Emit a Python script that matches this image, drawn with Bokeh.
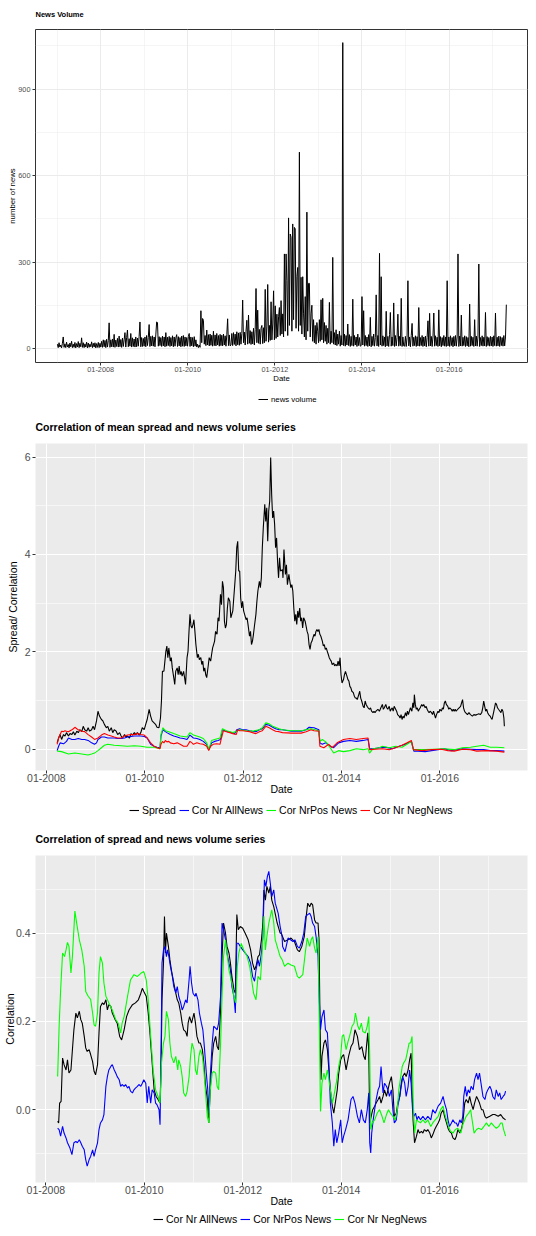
import numpy as np
import pandas as pd
from bokeh.plotting import figure
from bokeh.models import Range1d, FixedTicker, Legend, LegendItem, PrintfTickFormatter
from bokeh.layouts import column
from bokeh.embed import file_html
from bokeh.resources import INLINE

FONT = "Liberation Sans"

# ---------------- data ----------------
year_ticks = [2008, 2010, 2012, 2014, 2016]
year_minor = [2007, 2009, 2011, 2013, 2015, 2017]
year_labels = {y: "01-%d" % y for y in year_ticks}

# Panel 1: news volume, weekly samples starting 2007-01-03 (52 per year)
nv2007 = [15,3,20,5,12,2,18,40,4,16, 3,22,5,14,2,19,6,25,3,15, 4,21,2,17,5,24,3,18,6,37, 4,20,3,16,5,22,2,19,4,15, 6,23,3,18,5,20,2,17,4,21, 3,18]
nv2008 = [5,25,4,30,6,28,3,32,5,27, 89,4,30,6,33,5,49,4,29,7, 35,5,43,6,31,4,36,7,30,55, 5,38,64,6,34,8,52,5,37,7, 33,5,40,6,36,8,42,92,6,38, 7,35]
nv2009 = [8,40,6,45,10,38,83,7,42,9, 44,8,40,6,47,92,90,8,41,10, 38,7,43,9,40,6,55,8,39,10, 42,7,38,9,44,6,40,8,37,48, 7,41,9,38,6,43,8,45,7,40, 9,38]
nv2010 = [8,42,52,7,40,9,38,6,41,8, 30,5,15,3,12,4,131,20,104,98, 15,45,10,64,12,48,9,50,11,46, 8,60,10,47,9,52,12,45,8,49, 10,46,9,50,12,44,8,48,103,10, 47,9]
nv2011 = [12,52,10,55,14,50,9,58,13,54, 11,56,15,52,168,20,57,12,60,98, 15,116,18,62,14,58,16,70,12,65, 208,20,133,18,66,15,70,80,17,72, 20,205,25,75,222,22,80,28,162,30, 85,200]
nv2012 = [30,148,35,119,40,110,142,45,166,50, 120,40,328,60,328,235,45,453,80,397, 386,60,432,100,420,415,70,250,281,60, 681,80,247,50,249,120,40,180,30,473, 60,226,226,40,120,150,25,100,20,80, 15,90]
nv2013 = [60,20,100,25,169,30,174,20,90,25, 80,15,70,20,160,15,60,20,316,15, 55,12,65,10,50,15,60,8,45,12, 1061,10,50,8,45,12,85,10,48,7, 42,10,171,8,45,12,40,7,50,10, 38,8]
nv2014 = [10,180,12,131,8,45,10,40,7,48, 9,108,6,42,10,50,8,38,186,9, 45,7,330,12,249,8,44,10,40,6, 129,9,42,7,48,125,8,40,10,158, 7,45,9,38,119,8,42,10,174,7, 40,9]
nv2015 = [8,42,7,38,235,9,40,6,45,87, 8,39,10,44,7,41,9,142,8,38, 10,45,7,40,9,43,6,38,96,8, 122,9,42,7,40,123,8,44,10,39, 7,134,9,41,6,38,10,45,8,40, 7,235]
nv2016 = [9,40,7,44,10,38,6,42,9,45, 8,40,328,7,43,9,116,8,39,10, 44,7,41,9,38,6,154,8,42,10, 39,7,100,9,43,8,40,293,7,38, 10,44,8,39,9,125,7,41,10,38, 8,42]
nv2017 = [9,40,7,44,10,123,8,39,9,43, 7,41,10,38,8,45,9,40,152]

# Panel 2: mean spread and correlations (decimal year, value)
spread = [(2008.22,0.13),(2008.25,0.23),(2008.28,0.30),(2008.31,0.20),(2008.35,0.30),(2008.38,0.27),(2008.41,0.34),(2008.45,0.27),(2008.48,0.32),(2008.52,0.30),(2008.55,0.36),(2008.58,0.29),(2008.62,0.37),(2008.65,0.34),(2008.68,0.40),(2008.72,0.36),(2008.75,0.47),(2008.78,0.40),(2008.82,0.37),(2008.85,0.44),(2008.88,0.37),(2008.92,0.40),(2008.95,0.47),(2008.98,0.40),(2009.02,0.58),(2009.05,0.78),(2009.08,0.68),(2009.12,0.61),(2009.15,0.58),(2009.18,0.51),(2009.22,0.44),(2009.25,0.47),(2009.28,0.37),(2009.32,0.44),(2009.35,0.34),(2009.38,0.40),(2009.42,0.37),(2009.45,0.30),(2009.49,0.34),(2009.52,0.27),(2009.55,0.23),(2009.59,0.30),(2009.62,0.25),(2009.65,0.27),(2009.69,0.23),(2009.72,0.32),(2009.75,0.29),(2009.79,0.34),(2009.82,0.30),(2009.85,0.34),(2009.89,0.29),(2009.92,0.34),(2009.95,0.44),(2009.99,0.40),(2010.02,0.51),(2010.05,0.61),(2010.09,0.82),(2010.12,0.68),(2010.15,0.58),(2010.19,0.54),(2010.22,0.51),(2010.25,0.45),(2010.29,0.44),(2010.32,0.64),(2010.34,0.99),(2010.36,1.60),(2010.39,1.60),(2010.41,1.81),(2010.43,2.01),(2010.45,2.12),(2010.47,1.88),(2010.49,2.08),(2010.52,1.81),(2010.54,1.88),(2010.56,1.67),(2010.59,1.47),(2010.61,1.33),(2010.63,1.60),(2010.66,1.67),(2010.68,1.53),(2010.70,1.71),(2010.72,1.53),(2010.74,1.60),(2010.76,1.50),(2010.79,1.60),(2010.81,1.47),(2010.83,1.33),(2010.86,1.88),(2010.88,2.01),(2010.90,2.42),(2010.92,2.77),(2010.94,2.53),(2010.96,2.49),(2010.98,2.56),(2011.00,2.66),(2011.02,2.42),(2011.04,2.15),(2011.07,1.88),(2011.09,1.95),(2011.11,1.84),(2011.14,1.88),(2011.16,1.74),(2011.18,1.81),(2011.20,1.60),(2011.22,1.67),(2011.24,1.53),(2011.26,1.47),(2011.29,1.71),(2011.31,1.88),(2011.34,1.81),(2011.36,1.95),(2011.38,2.08),(2011.40,2.15),(2011.42,2.22),(2011.44,2.42),(2011.47,2.36),(2011.49,2.70),(2011.51,2.63),(2011.54,3.18),(2011.56,2.97),(2011.58,3.45),(2011.60,3.32),(2011.62,2.63),(2011.64,2.49),(2011.66,2.56),(2011.68,2.90),(2011.70,3.11),(2011.73,3.04),(2011.75,2.70),(2011.77,2.77),(2011.79,2.84),(2011.81,3.11),(2011.83,3.38),(2011.85,3.66),(2011.87,4.14),(2011.89,4.27),(2011.91,3.66),(2011.93,3.66),(2011.95,3.11),(2011.97,2.90),(2011.99,3.04),(2012.01,2.84),(2012.03,2.77),(2012.06,2.66),(2012.08,2.70),(2012.10,2.56),(2012.13,2.32),(2012.15,2.42),(2012.17,2.15),(2012.19,2.22),(2012.21,2.36),(2012.23,2.53),(2012.26,2.77),(2012.28,3.04),(2012.30,3.25),(2012.33,3.45),(2012.35,3.32),(2012.37,3.52),(2012.39,4.14),(2012.41,4.55),(2012.44,5.03),(2012.46,4.68),(2012.48,4.96),(2012.50,4.27),(2012.52,4.89),(2012.54,5.10),(2012.56,5.99),(2012.58,5.23),(2012.60,4.75),(2012.62,4.89),(2012.64,4.62),(2012.66,4.14),(2012.68,4.34),(2012.70,3.86),(2012.72,3.52),(2012.74,3.93),(2012.76,3.66),(2012.80,3.69),
(2012.81,3.52),(2012.83,4.10),(2012.86,3.59),(2012.88,3.79),(2012.90,3.38),(2012.93,3.59),(2012.95,3.45),(2012.97,3.32),(2012.99,3.38),(2013.01,3.25),(2013.03,2.90),(2013.05,2.63),(2013.07,2.77),(2013.09,2.56),(2013.11,2.84),(2013.13,2.70),(2013.15,2.90),(2013.17,2.63),(2013.19,2.70),(2013.21,2.49),(2013.23,2.70),(2013.26,2.63),(2013.28,2.53),(2013.30,2.42),(2013.32,2.36),(2013.34,2.15),(2013.36,2.05),(2013.38,2.18),(2013.40,2.22),(2013.42,2.29),(2013.44,2.36),(2013.46,2.32),(2013.48,2.42),(2013.50,2.46),(2013.52,2.42),(2013.54,2.46),(2013.56,2.36),(2013.58,2.32),(2013.61,2.22),(2013.63,2.12),(2013.65,2.15),(2013.67,2.05),(2013.69,2.08),(2013.71,2.01),(2013.73,1.95),(2013.75,1.88),(2013.77,1.84),(2013.79,1.81),(2013.81,1.74),(2013.84,1.77),(2013.86,1.71),(2013.88,1.74),(2013.91,1.71),(2013.93,1.81),(2013.95,1.71),(2013.97,1.88),(2013.99,1.53),(2014.01,1.36),(2014.04,1.43),(2014.06,1.53),(2014.08,1.60),(2014.11,1.50),(2014.13,1.43),(2014.15,1.40),(2014.17,1.29),(2014.19,1.26),(2014.21,1.19),(2014.24,1.16),(2014.26,1.09),(2014.28,1.05),(2014.30,1.05),(2014.32,1.02),(2014.35,1.12),(2014.37,1.19),(2014.39,1.05),(2014.41,0.99),(2014.44,0.88),(2014.46,0.85),(2014.48,0.99),(2014.50,0.92),(2014.52,0.88),(2014.54,0.85),(2014.57,0.82),(2014.59,0.85),(2014.61,0.78),(2014.64,0.75),(2014.66,0.78),(2014.68,0.75),(2014.70,0.78),(2014.74,0.82),(2014.77,0.78),(2014.80,0.85),(2014.83,0.92),(2014.85,0.82),(2014.87,0.85),(2014.90,0.92),(2014.92,0.85),(2014.94,0.82),(2014.97,0.88),(2014.99,0.78),(2015.01,0.82),(2015.03,0.85),(2015.05,0.78),(2015.07,0.88),(2015.10,0.82),(2015.12,0.78),(2015.14,0.71),(2015.17,0.68),(2015.19,0.64),(2015.21,0.71),(2015.23,0.61),(2015.25,0.68),(2015.27,0.64),(2015.30,0.75),(2015.32,0.68),(2015.34,0.78),(2015.36,0.71),(2015.38,0.78),(2015.40,0.85),(2015.43,0.78),(2015.45,0.95),(2015.47,0.85),(2015.48,1.12),(2015.50,0.92),(2015.52,0.82),(2015.54,0.85),(2015.56,0.78),(2015.58,0.82),(2015.60,0.85),(2015.63,0.92),(2015.65,0.88),(2015.67,0.92),(2015.70,0.85),(2015.72,0.88),(2015.74,0.82),(2015.76,0.78),(2015.78,0.75),(2015.80,0.78),(2015.83,0.75),(2015.85,0.71),(2015.87,0.78),(2015.89,0.71),(2015.91,0.64),(2015.93,0.71),(2015.96,0.78),(2015.98,0.75),(2016.00,0.82),(2016.03,0.78),(2016.05,0.85),(2016.07,0.82),(2016.09,0.95),(2016.11,0.99),(2016.13,0.92),(2016.16,0.88),(2016.18,0.82),(2016.20,0.85),(2016.23,0.82),(2016.25,0.78),(2016.27,0.82),(2016.29,0.78),(2016.31,0.82),(2016.33,0.78),(2016.36,0.82),(2016.39,0.85),(2016.42,0.88),(2016.44,0.95),(2016.46,1.02),(2016.48,0.85),(2016.50,0.78),(2016.52,0.75),(2016.56,0.71),(2016.59,0.75),(2016.62,0.71),(2016.66,0.68),(2016.69,0.71),(2016.72,0.70),(2016.75,0.71),(2016.79,0.73),(2016.82,0.71),(2016.85,0.75),(2016.87,0.85),(2016.89,0.99),(2016.91,0.88),(2016.93,0.78),(2016.95,0.82),(2016.97,0.75),(2016.99,0.71),(2017.02,0.68),(2017.04,0.64),(2017.06,0.61),(2017.09,0.75),(2017.11,0.85),(2017.13,0.95),(2017.15,0.92),(2017.17,0.85),(2017.19,0.82),(2017.22,0.78),(2017.24,0.75),(2017.26,0.82),(2017.28,0.78),(2017.30,0.64),(2017.31,0.47)]

mean_all = [(2008.22,-0.03),(2008.25,0.06),(2008.28,0.13),(2008.35,0.11),(2008.41,0.16),(2008.45,0.23),(2008.52,0.20),(2008.58,0.20),(2008.65,0.22),(2008.72,0.20),(2008.78,0.20),(2008.85,0.18),(2008.92,0.13),(2008.98,0.10),(2009.02,0.13),(2009.05,0.20),(2009.12,0.25),(2009.18,0.25),(2009.25,0.23),(2009.32,0.23),(2009.38,0.23),(2009.45,0.22),(2009.52,0.22),(2009.59,0.23),(2009.65,0.25),(2009.72,0.26),(2009.79,0.27),(2009.85,0.27),(2009.92,0.27),(2009.99,0.26),(2010.05,0.23),(2010.12,0.10),(2010.19,0.06),(2010.25,0.04),(2010.31,0.03),(2010.33,0.27),(2010.37,0.40),(2010.42,0.36),(2010.45,0.34),(2010.52,0.30),(2010.59,0.27),(2010.66,0.25),(2010.72,0.23),(2010.79,0.22),(2010.86,0.20),(2010.92,0.29),(2010.99,0.23),(2011.06,0.22),(2011.12,0.20),(2011.19,0.16),(2011.26,0.10),(2011.30,-0.01),(2011.36,0.13),(2011.42,0.16),(2011.49,0.18),(2011.54,0.20),(2011.58,0.40),(2011.63,0.38),(2011.69,0.36),(2011.76,0.34),(2011.83,0.32),(2011.87,0.40),(2011.93,0.42),(2011.99,0.40),(2012.06,0.40),(2012.13,0.38),(2012.19,0.37),(2012.26,0.36),(2012.33,0.40),(2012.39,0.42),(2012.46,0.51),(2012.53,0.49),(2012.60,0.45),(2012.66,0.42),(2012.73,0.40),(2012.80,0.40),(2012.98,0.37),(2013.18,0.37),(2013.28,0.40),(2013.34,0.45),(2013.44,0.44),(2013.54,0.40),(2013.56,0.13),(2013.61,0.10),(2013.68,0.13),(2013.77,0.06),(2013.84,0.03),(2013.94,0.13),(2014.04,0.16),(2014.17,0.18),(2014.30,0.16),(2014.44,0.18),(2014.54,0.20),(2014.57,0.01),(2014.64,0.01),(2014.77,0.03),(2014.90,0.04),(2015.03,0.01),(2015.17,0.06),(2015.30,0.10),(2015.42,0.16),(2015.47,-0.04),(2015.56,-0.04),(2015.70,-0.05),(2015.83,-0.03),(2015.96,-0.01),(2016.09,0.01),(2016.23,-0.03),(2016.36,-0.01),(2016.46,0.01),(2016.62,0.0),(2016.75,-0.01),(2016.89,-0.01),(2017.02,-0.03),(2017.15,-0.03),(2017.31,-0.04)]

mean_pos = [(2008.22,-0.04),(2008.31,-0.05),(2008.45,-0.10),(2008.58,-0.08),(2008.72,-0.10),(2008.85,-0.12),(2008.92,-0.10),(2008.98,-0.08),(2009.05,-0.03),(2009.12,0.03),(2009.18,0.08),(2009.25,0.10),(2009.38,0.08),(2009.52,0.07),(2009.65,0.06),(2009.79,0.07),(2009.92,0.06),(2010.05,0.04),(2010.19,0.04),(2010.31,0.01),(2010.33,0.30),(2010.37,0.44),(2010.42,0.38),(2010.49,0.36),(2010.59,0.32),(2010.72,0.27),(2010.86,0.25),(2010.92,0.34),(2010.99,0.29),(2011.12,0.25),(2011.19,0.22),(2011.26,0.13),(2011.30,-0.01),(2011.36,0.18),(2011.42,0.20),(2011.53,0.23),(2011.58,0.42),(2011.66,0.38),(2011.79,0.34),(2011.87,0.37),(2011.93,0.40),(2012.06,0.38),(2012.19,0.37),(2012.33,0.40),(2012.39,0.44),(2012.46,0.54),(2012.53,0.52),(2012.60,0.47),(2012.73,0.42),(2012.80,0.40),(2012.98,0.38),(2013.18,0.38),(2013.28,0.40),(2013.38,0.42),(2013.54,0.38),(2013.56,0.16),(2013.61,0.20),(2013.68,0.15),(2013.77,0.03),(2013.84,-0.08),(2013.94,-0.03),(2014.04,-0.05),(2014.17,-0.03),(2014.30,0.01),(2014.44,-0.01),(2014.54,0.01),(2014.57,-0.08),(2014.64,0.01),(2014.77,0.03),(2014.83,0.06),(2014.97,0.03),(2015.10,0.06),(2015.23,0.04),(2015.33,0.10),(2015.42,0.16),(2015.46,-0.01),(2015.70,-0.01),(2015.89,0.0),(2016.09,0.01),(2016.29,-0.01),(2016.46,0.03),(2016.62,0.04),(2016.75,0.06),(2016.89,0.08),(2017.02,0.04),(2017.15,0.04),(2017.31,0.03)]

mean_neg = [(2008.22,0.10),(2008.25,0.23),(2008.28,0.30),(2008.31,0.37),(2008.35,0.36),(2008.38,0.38),(2008.41,0.37),(2008.45,0.36),(2008.52,0.40),(2008.55,0.42),(2008.58,0.45),(2008.62,0.42),(2008.65,0.40),(2008.72,0.37),(2008.78,0.36),(2008.85,0.30),(2008.92,0.25),(2008.98,0.20),(2009.05,0.23),(2009.12,0.29),(2009.18,0.32),(2009.25,0.29),(2009.32,0.27),(2009.38,0.25),(2009.45,0.23),(2009.52,0.23),(2009.59,0.27),(2009.65,0.29),(2009.72,0.30),(2009.79,0.30),(2009.85,0.32),(2009.92,0.30),(2009.99,0.29),(2010.05,0.23),(2010.12,0.13),(2010.19,0.06),(2010.25,0.03),(2010.31,0.01),(2010.33,0.10),(2010.36,0.16),(2010.39,0.13),(2010.42,0.18),(2010.45,0.15),(2010.49,0.16),(2010.52,0.13),(2010.59,0.11),(2010.66,0.13),(2010.72,0.10),(2010.79,0.06),(2010.86,0.06),(2010.92,0.16),(2010.96,0.13),(2010.99,0.10),(2011.06,0.13),(2011.12,0.11),(2011.19,0.10),(2011.26,0.06),(2011.30,-0.03),(2011.34,0.06),(2011.39,0.10),(2011.46,0.11),(2011.53,0.10),(2011.56,0.23),(2011.60,0.38),(2011.66,0.36),(2011.73,0.34),(2011.79,0.32),(2011.86,0.30),(2011.89,0.40),(2011.93,0.38),(2011.99,0.38),(2012.06,0.37),(2012.13,0.36),(2012.19,0.34),(2012.26,0.32),(2012.33,0.36),(2012.39,0.38),(2012.46,0.47),(2012.53,0.44),(2012.60,0.40),(2012.66,0.37),(2012.73,0.36),(2012.80,0.34),(2012.98,0.33),(2013.18,0.33),(2013.28,0.36),(2013.38,0.40),(2013.44,0.38),(2013.54,0.37),(2013.56,0.06),(2013.64,0.03),(2013.74,0.10),(2013.81,0.03),(2013.91,0.13),(2014.04,0.20),(2014.17,0.22),(2014.30,0.20),(2014.44,0.22),(2014.54,0.23),(2014.57,-0.01),(2014.70,0.0),(2014.83,0.01),(2014.97,-0.01),(2015.10,0.03),(2015.23,0.08),(2015.33,0.13),(2015.42,0.18),(2015.46,-0.01),(2015.63,-0.03),(2015.83,-0.01),(2016.03,0.0),(2016.16,-0.03),(2016.29,-0.04),(2016.46,0.0),(2016.62,-0.01),(2016.75,-0.04),(2016.95,-0.03),(2017.15,-0.04),(2017.31,-0.06)]

# Panel 3: correlations (decimal year, value)
cor_all = [(2008.24,-0.026),(2008.26,-0.030),(2008.28,0.015),(2008.31,0.019),(2008.34,0.117),(2008.37,0.102),(2008.41,0.090),(2008.44,0.113),(2008.47,0.083),(2008.51,0.090),(2008.54,0.136),(2008.57,0.181),(2008.61,0.219),(2008.64,0.208),(2008.68,0.223),(2008.71,0.204),(2008.74,0.196),(2008.78,0.166),(2008.81,0.140),(2008.84,0.132),(2008.88,0.136),(2008.91,0.125),(2008.95,0.109),(2008.98,0.087),(2009.01,0.079),(2009.05,0.102),(2009.08,0.174),(2009.11,0.234),(2009.15,0.242),(2009.18,0.238),(2009.22,0.249),(2009.25,0.226),(2009.28,0.238),(2009.32,0.234),(2009.35,0.219),(2009.41,0.204),(2009.45,0.196),(2009.50,0.166),(2009.54,0.158),(2009.59,0.181),(2009.64,0.211),(2009.69,0.226),(2009.76,0.238),(2009.82,0.242),(2009.88,0.249),(2009.93,0.264),(2009.96,0.275),(2009.99,0.268),(2010.04,0.257),(2010.08,0.219),(2010.11,0.181),(2010.15,0.121),(2010.20,0.045),(2010.24,0.030),(2010.28,0.023),(2010.32,0.015),(2010.34,0.090),(2010.36,0.249),(2010.39,0.332),(2010.41,0.438),(2010.43,0.355),(2010.45,0.400),(2010.49,0.370),(2010.52,0.340),(2010.55,0.317),(2010.60,0.287),(2010.64,0.264),(2010.67,0.249),(2010.70,0.242),(2010.74,0.219),(2010.77,0.196),(2010.80,0.181),(2010.84,0.177),(2010.87,0.166),(2010.89,0.196),(2010.92,0.211),(2010.96,0.196),(2011.01,0.219),(2011.04,0.196),(2011.07,0.166),(2011.11,0.151),(2011.14,0.151),(2011.18,0.136),(2011.21,0.106),(2011.24,0.060),(2011.28,0.023),(2011.31,-0.030),(2011.34,0.045),(2011.38,0.121),(2011.41,0.151),(2011.45,0.166),(2011.48,0.143),(2011.51,0.136),(2011.55,0.226),(2011.58,0.347),(2011.61,0.423),(2011.65,0.400),(2011.68,0.370),(2011.72,0.355),(2011.75,0.332),(2011.78,0.302),(2011.82,0.272),(2011.85,0.264),(2011.88,0.442),(2011.91,0.408),(2011.95,0.415),(2012.00,0.411),(2012.05,0.400),(2012.11,0.385),(2012.16,0.362),(2012.20,0.332),(2012.24,0.317),(2012.27,0.325),(2012.31,0.347),(2012.34,0.351),(2012.38,0.385),(2012.41,0.423),(2012.43,0.498),(2012.46,0.475),(2012.49,0.506),(2012.53,0.491),(2012.56,0.506),(2012.59,0.475),(2012.63,0.460),(2012.70,0.423),(2012.76,0.400),
(2012.78,0.400),(2012.85,0.381),(2012.92,0.385),(2012.98,0.389),(2013.05,0.381),(2013.11,0.362),(2013.15,0.358),(2013.20,0.370),(2013.25,0.392),(2013.29,0.438),(2013.32,0.468),(2013.36,0.460),(2013.39,0.468),(2013.42,0.464),(2013.46,0.430),(2013.49,0.423),(2013.53,0.423),(2013.55,0.385),(2013.57,0.196),(2013.59,0.068),(2013.61,0.121),(2013.65,0.151),(2013.68,0.158),(2013.72,0.136),(2013.75,0.090),(2013.78,0.045),(2013.82,0.008),(2013.85,-0.008),(2013.88,0.015),(2013.92,0.045),(2013.95,0.083),(2013.99,0.113),(2014.02,0.121),(2014.05,0.125),(2014.10,0.090),(2014.15,0.121),(2014.20,0.143),(2014.24,0.151),(2014.28,0.181),(2014.33,0.166),(2014.37,0.136),(2014.42,0.143),(2014.46,0.121),(2014.49,0.113),(2014.52,0.151),(2014.54,0.174),(2014.56,0.136),(2014.58,-0.030),(2014.61,-0.015),(2014.64,0.000),(2014.68,0.008),(2014.71,0.015),(2014.75,0.023),(2014.78,0.030),(2014.81,0.015),(2014.85,0.030),(2014.88,0.045),(2014.92,0.030),(2014.95,0.045),(2014.98,0.060),(2015.02,0.075),(2015.05,0.045),(2015.08,-0.015),(2015.12,-0.008),(2015.15,0.015),(2015.19,0.030),(2015.22,0.060),(2015.25,0.075),(2015.29,0.083),(2015.32,0.075),(2015.36,0.090),(2015.39,0.113),(2015.42,0.128),(2015.44,0.045),(2015.46,-0.023),(2015.49,-0.075),(2015.53,-0.060),(2015.56,-0.045),(2015.59,-0.053),(2015.63,-0.049),(2015.66,-0.053),(2015.69,-0.045),(2015.73,-0.049),(2015.76,-0.045),(2015.80,-0.053),(2015.83,-0.064),(2015.86,-0.057),(2015.90,-0.045),(2015.93,-0.038),(2015.97,-0.030),(2016.00,-0.023),(2016.03,-0.008),(2016.07,0.000),(2016.10,-0.015),(2016.14,-0.030),(2016.17,-0.042),(2016.20,-0.049),(2016.24,-0.053),(2016.27,-0.064),(2016.31,-0.068),(2016.34,-0.060),(2016.37,-0.045),(2016.41,-0.053),(2016.44,-0.045),(2016.47,-0.030),(2016.51,0.015),(2016.54,0.023),(2016.58,0.015),(2016.61,0.030),(2016.64,0.015),(2016.68,0.000),(2016.71,0.015),(2016.75,0.030),(2016.78,0.023),(2016.81,0.015),(2016.85,0.000),(2016.88,0.000),(2016.92,-0.015),(2016.95,-0.019),(2017.02,-0.015),(2017.08,-0.011),(2017.12,-0.011),(2017.19,-0.015),(2017.24,-0.011),(2017.29,-0.019),(2017.34,-0.023)]

cor_pos = [(2008.24,-0.042),(2008.27,-0.045),(2008.30,-0.060),(2008.34,-0.038),(2008.37,-0.053),(2008.41,-0.064),(2008.44,-0.075),(2008.49,-0.087),(2008.53,-0.102),(2008.57,-0.075),(2008.61,-0.072),(2008.64,-0.075),(2008.68,-0.068),(2008.71,-0.075),(2008.74,-0.083),(2008.78,-0.091),(2008.81,-0.113),(2008.84,-0.128),(2008.88,-0.113),(2008.91,-0.106),(2008.95,-0.091),(2008.98,-0.106),(2009.01,-0.091),(2009.05,-0.075),(2009.08,-0.045),(2009.11,-0.030),(2009.15,-0.023),(2009.18,-0.011),(2009.22,0.053),(2009.25,0.075),(2009.28,0.090),(2009.32,0.098),(2009.35,0.102),(2009.39,0.090),(2009.42,0.083),(2009.45,0.075),(2009.49,0.068),(2009.52,0.053),(2009.55,0.057),(2009.59,0.053),(2009.62,0.057),(2009.66,0.049),(2009.69,0.053),(2009.72,0.042),(2009.76,0.038),(2009.79,0.045),(2009.82,0.049),(2009.86,0.053),(2009.89,0.057),(2009.93,0.053),(2009.96,0.060),(2009.99,0.068),(2010.03,0.060),(2010.06,0.015),(2010.09,0.053),(2010.13,0.015),(2010.16,0.045),(2010.20,0.038),(2010.23,0.015),(2010.26,0.011),(2010.30,0.000),(2010.32,-0.034),(2010.34,0.121),(2010.36,0.332),(2010.39,0.362),(2010.42,0.370),(2010.45,0.347),(2010.47,0.362),(2010.50,0.347),(2010.53,0.325),(2010.57,0.302),(2010.60,0.279),(2010.64,0.264),(2010.67,0.279),(2010.70,0.257),(2010.74,0.242),(2010.77,0.226),(2010.80,0.234),(2010.84,0.249),(2010.87,0.242),(2010.91,0.294),(2010.93,0.325),(2010.96,0.287),(2010.99,0.264),(2011.03,0.257),(2011.05,0.264),(2011.09,0.249),(2011.12,0.219),(2011.16,0.196),(2011.19,0.181),(2011.22,0.143),(2011.26,0.083),(2011.29,0.045),(2011.31,-0.008),(2011.34,0.075),(2011.38,0.151),(2011.41,0.189),(2011.45,0.185),(2011.48,0.181),(2011.51,0.196),(2011.55,0.257),(2011.58,0.423),(2011.61,0.408),(2011.65,0.385),(2011.68,0.355),(2011.72,0.332),(2011.75,0.317),(2011.78,0.279),(2011.82,0.257),(2011.85,0.219),(2011.88,0.377),(2011.91,0.377),(2011.95,0.370),(2012.00,0.362),(2012.05,0.355),(2012.11,0.347),(2012.16,0.332),(2012.20,0.302),(2012.24,0.291),(2012.27,0.317),(2012.31,0.340),(2012.34,0.325),(2012.38,0.355),(2012.41,0.392),(2012.44,0.521),(2012.47,0.506),(2012.50,0.528),(2012.53,0.540),(2012.56,0.513),(2012.59,0.483),(2012.63,0.498),(2012.66,0.468),(2012.72,0.445),(2012.76,0.415),(2012.80,0.392),
(2012.81,0.370),(2012.86,0.358),(2012.92,0.389),(2012.97,0.385),(2013.02,0.381),(2013.06,0.385),(2013.11,0.370),(2013.15,0.366),(2013.20,0.381),(2013.24,0.400),(2013.28,0.438),(2013.32,0.442),(2013.36,0.445),(2013.39,0.438),(2013.42,0.423),(2013.46,0.415),(2013.49,0.392),(2013.53,0.347),(2013.55,0.264),(2013.58,0.181),(2013.61,0.211),(2013.65,0.226),(2013.68,0.181),(2013.72,0.174),(2013.75,0.106),(2013.78,0.015),(2013.82,-0.030),(2013.85,-0.083),(2013.88,-0.045),(2013.91,-0.075),(2013.95,-0.053),(2013.99,-0.023),(2014.02,-0.075),(2014.05,-0.060),(2014.09,-0.045),(2014.14,-0.023),(2014.17,0.000),(2014.20,0.023),(2014.24,0.030),(2014.28,0.015),(2014.33,-0.015),(2014.37,-0.030),(2014.41,0.000),(2014.45,-0.023),(2014.49,-0.030),(2014.53,0.000),(2014.56,0.038),(2014.58,-0.075),(2014.60,-0.098),(2014.62,-0.053),(2014.65,-0.023),(2014.68,0.000),(2014.71,0.023),(2014.75,0.045),(2014.78,0.053),(2014.81,0.098),(2014.85,0.038),(2014.88,0.060),(2014.92,0.053),(2014.95,0.045),(2014.98,0.030),(2015.02,0.045),(2015.05,0.000),(2015.08,-0.030),(2015.12,-0.023),(2015.15,0.008),(2015.19,0.030),(2015.22,0.053),(2015.25,0.075),(2015.29,0.060),(2015.32,0.030),(2015.36,0.053),(2015.39,0.090),(2015.42,0.060),(2015.45,0.000),(2015.48,-0.015),(2015.51,-0.008),(2015.54,-0.023),(2015.57,-0.015),(2015.61,-0.023),(2015.66,-0.015),(2015.71,-0.023),(2015.76,-0.015),(2015.82,-0.023),(2015.86,0.000),(2015.91,-0.008),(2015.97,0.008),(2016.02,0.015),(2016.07,0.030),(2016.10,0.015),(2016.14,0.000),(2016.17,-0.023),(2016.20,-0.038),(2016.24,-0.030),(2016.27,-0.023),(2016.31,-0.030),(2016.34,-0.030),(2016.37,-0.038),(2016.41,-0.023),(2016.44,-0.030),(2016.47,-0.015),(2016.49,0.030),(2016.52,0.053),(2016.55,0.030),(2016.58,0.045),(2016.61,0.038),(2016.64,0.053),(2016.68,0.045),(2016.71,0.068),(2016.75,0.083),(2016.78,0.068),(2016.81,0.083),(2016.85,0.053),(2016.88,0.030),(2016.92,0.023),(2016.95,0.038),(2016.98,0.045),(2017.02,0.053),(2017.05,0.045),(2017.08,0.030),(2017.12,0.023),(2017.15,0.045),(2017.19,0.030),(2017.22,0.038),(2017.25,0.023),(2017.29,0.030),(2017.32,0.034),(2017.34,0.042)]

cor_neg = [(2008.24,0.075),(2008.27,0.189),(2008.30,0.270),(2008.34,0.355),(2008.38,0.347),(2008.41,0.362),(2008.44,0.379),(2008.47,0.370),(2008.51,0.310),(2008.54,0.347),(2008.59,0.450),(2008.63,0.420),(2008.68,0.385),(2008.73,0.362),(2008.78,0.325),(2008.81,0.268),(2008.86,0.257),(2008.91,0.250),(2008.95,0.219),(2008.98,0.192),(2009.01,0.189),(2009.05,0.219),(2009.08,0.310),(2009.11,0.347),(2009.15,0.332),(2009.18,0.287),(2009.22,0.257),(2009.28,0.242),(2009.35,0.226),(2009.42,0.204),(2009.47,0.196),(2009.52,0.174),(2009.55,0.196),(2009.59,0.211),(2009.66,0.257),(2009.72,0.294),(2009.79,0.306),(2009.86,0.302),(2009.93,0.309),(2009.99,0.313),(2010.04,0.294),(2010.08,0.249),(2010.13,0.166),(2010.18,0.090),(2010.23,0.045),(2010.28,0.030),(2010.32,0.015),(2010.35,0.106),(2010.39,0.151),(2010.42,0.166),(2010.45,0.223),(2010.49,0.204),(2010.52,0.151),(2010.55,0.121),(2010.60,0.106),(2010.64,0.121),(2010.68,0.090),(2010.70,0.113),(2010.74,0.098),(2010.77,0.075),(2010.80,0.038),(2010.84,0.030),(2010.87,0.042),(2010.91,0.075),(2010.94,0.121),(2010.97,0.151),(2011.01,0.136),(2011.04,0.090),(2011.07,0.079),(2011.11,0.121),(2011.14,0.136),(2011.18,0.121),(2011.21,0.090),(2011.24,0.045),(2011.28,-0.015),(2011.31,-0.030),(2011.34,0.045),(2011.38,0.083),(2011.41,0.087),(2011.45,0.083),(2011.48,0.053),(2011.51,0.045),(2011.55,0.151),(2011.58,0.257),(2011.61,0.347),(2011.65,0.385),(2011.68,0.355),(2011.72,0.317),(2011.78,0.287),(2011.82,0.257),(2011.86,0.242),(2011.89,0.325),(2011.92,0.355),(2011.97,0.377),(2012.02,0.362),(2012.09,0.347),(2012.14,0.325),(2012.19,0.287),(2012.22,0.264),(2012.27,0.249),(2012.31,0.302),(2012.36,0.294),(2012.39,0.347),(2012.43,0.438),(2012.46,0.362),(2012.49,0.392),(2012.53,0.423),(2012.56,0.438),(2012.59,0.453),(2012.63,0.423),(2012.66,0.385),(2012.72,0.362),(2012.76,0.347),(2012.80,0.340),
(2012.85,0.325),(2012.92,0.332),(2012.98,0.328),(2013.05,0.325),(2013.11,0.302),(2013.15,0.298),(2013.22,0.306),(2013.27,0.355),(2013.31,0.389),(2013.36,0.370),(2013.39,0.385),(2013.42,0.392),(2013.46,0.366),(2013.49,0.355),(2013.53,0.392),(2013.55,0.234),(2013.58,-0.004),(2013.61,0.060),(2013.65,0.083),(2013.68,0.068),(2013.72,0.090),(2013.75,0.068),(2013.78,0.045),(2013.82,0.015),(2013.85,0.030),(2013.90,0.060),(2013.95,0.098),(2013.99,0.121),(2014.02,0.166),(2014.05,0.170),(2014.10,0.136),(2014.14,0.155),(2014.17,0.166),(2014.22,0.189),(2014.26,0.196),(2014.29,0.219),(2014.34,0.189),(2014.37,0.181),(2014.41,0.196),(2014.44,0.177),(2014.49,0.174),(2014.53,0.189),(2014.56,0.211),(2014.58,0.121),(2014.60,-0.045),(2014.63,-0.030),(2014.68,-0.023),(2014.73,-0.008),(2014.78,0.000),(2014.83,-0.015),(2014.87,-0.030),(2014.92,-0.011),(2014.96,0.000),(2015.00,-0.008),(2015.05,-0.015),(2015.10,-0.023),(2015.14,0.000),(2015.17,0.045),(2015.21,0.075),(2015.24,0.098),(2015.27,0.106),(2015.31,0.113),(2015.34,0.128),(2015.38,0.151),(2015.41,0.151),(2015.44,0.166),(2015.46,0.030),(2015.49,-0.053),(2015.53,-0.023),(2015.56,-0.026),(2015.61,-0.030),(2015.66,-0.023),(2015.71,-0.030),(2015.76,-0.023),(2015.82,-0.038),(2015.86,-0.030),(2015.91,-0.023),(2015.97,-0.015),(2016.02,0.000),(2016.07,0.008),(2016.10,-0.008),(2016.14,-0.023),(2016.18,-0.038),(2016.22,-0.049),(2016.27,-0.053),(2016.32,-0.045),(2016.37,-0.042),(2016.43,-0.053),(2016.47,-0.034),(2016.51,-0.023),(2016.54,-0.015),(2016.59,-0.008),(2016.63,0.000),(2016.66,-0.023),(2016.70,-0.053),(2016.75,-0.045),(2016.79,-0.042),(2016.85,-0.045),(2016.90,-0.038),(2016.95,-0.030),(2017.00,-0.038),(2017.05,-0.030),(2017.11,-0.038),(2017.15,-0.042),(2017.20,-0.038),(2017.24,-0.030),(2017.27,-0.030),(2017.30,-0.045),(2017.34,-0.060)]


def unzip(pairs):
    return [a for a, _ in pairs], [b for _, b in pairs]


def style(p, tick_size, label_size, grey, xtick_standoff, xl_standoff, yl_standoff):
    for ax in (p.xaxis[0], p.yaxis[0]):
        ax.axis_line_color = None
        ax.major_tick_line_color = "#333333"
        ax.major_tick_line_width = 1
        ax.major_tick_in = 0
        ax.major_tick_out = 3
        ax.minor_tick_line_color = None
        ax.major_label_text_font = FONT
        ax.major_label_text_font_size = tick_size
        ax.major_label_text_color = "#4D4D4D"
        ax.axis_label_text_font = FONT
        ax.axis_label_text_font_size = label_size
        ax.axis_label_text_font_style = "normal"
        ax.axis_label_text_color = "black"
    p.xaxis[0].major_label_standoff = xtick_standoff
    p.yaxis[0].major_label_standoff = 1
    p.xaxis[0].axis_label_standoff = xl_standoff
    p.yaxis[0].axis_label_standoff = yl_standoff
    xt = FixedTicker(ticks=year_ticks, minor_ticks=year_minor)
    p.xaxis[0].ticker = xt
    p.xgrid[0].ticker = xt
    p.xaxis[0].major_label_overrides = year_labels
    if grey:
        p.background_fill_color = "#EBEBEB"
        p.outline_line_color = None
        gc, gw, mw = "white", 1.1, 0.55
    else:
        p.background_fill_color = "white"
        p.outline_line_color = "#333333"
        p.outline_line_width = 1
        gc, gw, mw = "#EBEBEB", 1.0, 0.5
    for g in (p.xgrid[0], p.ygrid[0]):
        g.grid_line_color = gc
        g.grid_line_width = gw
        g.minor_grid_line_color = gc
        g.minor_grid_line_width = mw
    p.border_fill_color = "white"


def set_title(p, text, size, standoff):
    p.title.text = text
    p.title.text_font = FONT
    p.title.text_font_size = size
    p.title.text_font_style = "bold"
    p.title.text_color = "black"
    p.title.align = "left"
    p.title.offset = 0
    p.title.vertical_align = "top"
    p.title.standoff = standoff


def legend_fig(entries, size, height, border_left, width_line, x0, y0):
    f = figure(width=528, height=height, output_backend="svg", toolbar_location=None,
               x_range=Range1d(0, 1), y_range=Range1d(0, 1),
               x_axis_location=None, y_axis_location=None,
               min_border_left=border_left, min_border_right=0, min_border_top=0, min_border_bottom=0)
    f.grid.visible = False
    f.outline_line_color = None
    f.background_fill_color = "white"
    f.border_fill_color = "white"
    items = []
    for name, col in entries:
        # off-range stub so that the legend draws the line key
        rr = f.line([-3, -2], [-3, -2], line_color=col, line_width=width_line)
        items.append(LegendItem(label=name, renderers=[rr]))
    leg = Legend(items=items, orientation="horizontal", location=(x0, y0),
                 label_text_font=FONT, label_text_font_size=size, label_text_color="black",
                 glyph_width=10, glyph_height=12, label_height=12,
                 label_standoff=3, spacing=3, padding=0, margin=0,
                 border_line_color=None, background_fill_alpha=0)
    f.add_layout(leg, "center")
    return f


# ---------------- panel 1 ----------------
news_volume = nv2007 + nv2008 + nv2009 + nv2010 + nv2011 + nv2012 + nv2013 + nv2014 + nv2015 + nv2016 + nv2017
nv_dates = pd.date_range("2007-01-03", periods=len(news_volume), freq="7D")
nv_x = list(nv_dates.year + (nv_dates.dayofyear - 1) / np.where(nv_dates.is_leap_year, 366.0, 365.0))

p1 = figure(width=528, height=388, output_backend="svg", toolbar_location=None,
            x_range=Range1d(2006.503, 2017.801), y_range=Range1d(-48.6, 1106.5),
            min_border_left=31, min_border_right=1, min_border_top=29, min_border_bottom=26,
            x_axis_label="Date", y_axis_label="number of news")
style(p1, "7.3px", "7.8px", False, 0, -1, -2)
p1.yaxis[0].ticker = FixedTicker(ticks=[0, 300, 600, 900], minor_ticks=[150, 450, 750, 1050])
p1.ygrid[0].ticker = p1.yaxis[0].ticker
set_title(p1, "News Volume", "7.5px", 17)
p1.line(nv_x, news_volume, line_color="black", line_width=1)
l1 = legend_fig([("news volume", "black")], "7.8px", 22, 31, 1, 223, 5)

# ---------------- panel 2 ----------------
p2 = figure(width=528, height=388, output_backend="svg", toolbar_location=None,
            x_range=Range1d(2007.78, 2017.78), y_range=Range1d(-0.438, 6.28),
            min_border_left=28, min_border_right=0, min_border_top=33, min_border_bottom=28,
            x_axis_label="Date", y_axis_label="Spread/ Correlation")
style(p2, "10.5px", "10.5px", True, -1, -2, 3)
p2.yaxis[0].ticker = FixedTicker(ticks=[0, 2, 4, 6], minor_ticks=[1, 3, 5])
p2.ygrid[0].ticker = p2.yaxis[0].ticker
set_title(p2, "Correlation of mean spread and news volume series", "10.5px", 17)
ser2 = [("Spread", spread, "black"), ("Cor Nr AllNews", mean_all, "#0000FF"),
        ("Cor NrPos News", mean_pos, "#00FF00"), ("Cor Nr NegNews", mean_neg, "#FF0000")]
for name, data, col in ser2:
    xs, ys = unzip(data)
    p2.line(xs, ys, line_color=col, line_width=1.1)
l2 = legend_fig([(n, c) for n, _, c in ser2], "10.5px", 24, 28, 1.1, 94, 6)

# ---------------- panel 3 ----------------
p3 = figure(width=528, height=388, output_backend="svg", toolbar_location=None,
            x_range=Range1d(2007.79, 2017.785), y_range=Range1d(-0.165, 0.576),
            min_border_left=35, min_border_right=0, min_border_top=33, min_border_bottom=28,
            x_axis_label="Date", y_axis_label="Correlation")
style(p3, "10.5px", "10.5px", True, -1, -2, -3)
p3.yaxis[0].ticker = FixedTicker(ticks=[0.0, 0.2, 0.4], minor_ticks=[-0.1, 0.1, 0.3, 0.5])
p3.ygrid[0].ticker = p3.yaxis[0].ticker
p3.yaxis[0].formatter = PrintfTickFormatter(format="%.1f")
set_title(p3, "Correlation of spread and news volume series", "10.5px", 17)
ser3 = [("Cor Nr AllNews", cor_all, "black"), ("Cor NrPos News", cor_pos, "#0000FF"),
        ("Cor Nr NegNews", cor_neg, "#00FF00")]
for name, data, col in ser3:
    xs, ys = unzip(data)
    p3.line(xs, ys, line_color=col, line_width=1.1)
l3 = legend_fig([(n, c) for n, _, c in ser3], "10.5px", 18, 35, 1.1, 118, 3)

layout = column(p1, l1, p2, l2, p3, l3, spacing=0)
open("out.html", "w").write(file_html(layout, INLINE))
